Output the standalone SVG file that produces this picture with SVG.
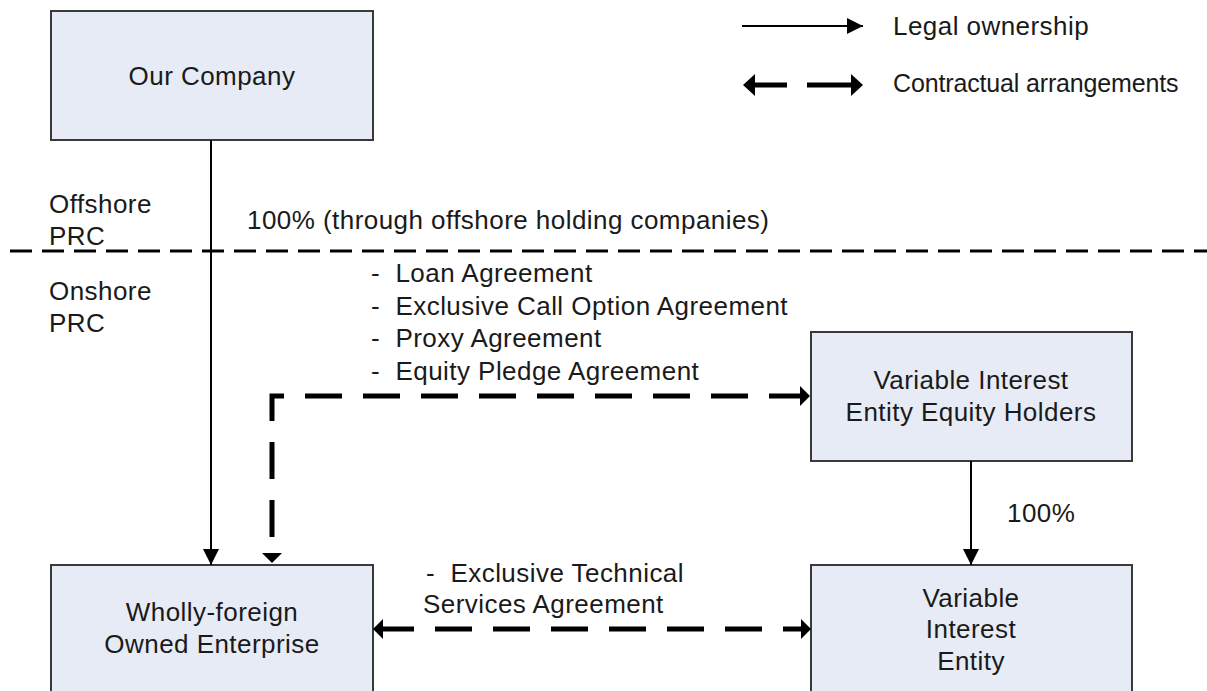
<svg xmlns="http://www.w3.org/2000/svg" width="1207" height="691" viewBox="0 0 1207 691">
  <style>
    text { font-family: "Liberation Sans", Arial, Helvetica, sans-serif; font-size: 26px; letter-spacing: 0.45px; fill: #1a1a1a; white-space: pre; }
    .c { text-anchor: middle; }
    .narrow { font-size: 25px; letter-spacing: -0.15px; }
    .box { fill: #e7ebf5; stroke: #3a3a3a; stroke-width: 2; }
    .solid { fill: none; stroke: #000; stroke-width: 2; }
    .dash { fill: none; stroke: #000; stroke-width: 5; stroke-dasharray: 37 21; }
    .divider { fill: none; stroke: #000; stroke-width: 3; stroke-dasharray: 22 10; }
  </style>
  <defs>
    <marker id="shead" markerUnits="userSpaceOnUse" markerWidth="18" markerHeight="18" refX="16" refY="8" orient="auto" overflow="visible">
      <path d="M0,0 L16,8 L0,16 Z" fill="#000"/>
    </marker>
    <marker id="dhead" markerUnits="userSpaceOnUse" markerWidth="12" markerHeight="22" refX="0" refY="10" orient="auto-start-reverse" overflow="visible">
      <path d="M0,0 L10,10 L0,20 Z" fill="#000"/>
    </marker>
  </defs>

  <rect width="1207" height="691" fill="#fff"/>

  <!-- region divider and labels -->
  <g id="divider">
    <line class="divider" x1="10" y1="251" x2="1207" y2="251"/>
    <text x="49" y="213">Offshore</text>
    <text x="49" y="245">PRC</text>
    <text x="49" y="300">Onshore</text>
    <text x="49" y="332">PRC</text>
  </g>

  <!-- legend -->
  <g id="legend">
    <path class="solid" d="M742,26 H863" marker-end="url(#shead)"/>
    <text x="893" y="35">Legal ownership</text>
    <path d="M754,85 H787 M807,85 H851" fill="none" stroke="#000" stroke-width="5"/>
    <path d="M755,74 L743,85 L755,96 Z M851,74 L863,85 L851,96 Z" fill="#000"/>
    <text class="narrow" x="893" y="92">Contractual arrangements</text>
  </g>

  <!-- nodes -->
  <g id="our-company">
    <rect class="box" x="51" y="11" width="322" height="129"/>
    <text class="c" x="212" y="85">Our Company</text>
  </g>
  <g id="vie-equity-holders">
    <rect class="box" x="811" y="332" width="321" height="129"/>
    <text class="c" x="971" y="389">Variable Interest</text>
    <text class="c" x="971" y="421">Entity Equity Holders</text>
  </g>
  <g id="wfoe">
    <rect class="box" x="51" y="565" width="322" height="140"/>
    <text class="c" x="212" y="621">Wholly-foreign</text>
    <text class="c" x="212" y="653">Owned Enterprise</text>
  </g>
  <g id="vie">
    <rect class="box" x="811" y="565" width="321" height="140"/>
    <text class="c" x="971" y="607">Variable</text>
    <text class="c" x="971" y="638">Interest</text>
    <text class="c" x="971" y="670">Entity</text>
  </g>

  <!-- connectors -->
  <g id="connectors">
    <path class="solid" d="M211,140 V565" marker-end="url(#shead)"/>
    <path class="solid" d="M971,461 V565" marker-end="url(#shead)"/>
    <path class="dash" d="M272,553 V396 H800" stroke-dashoffset="42" marker-start="url(#dhead)" marker-end="url(#dhead)"/>
    <path class="dash" d="M383,629 H801" stroke-dasharray="38 20" stroke-dashoffset="6" marker-start="url(#dhead)" marker-end="url(#dhead)"/>
  </g>

  <!-- connector labels -->
  <g id="labels">
    <text x="247" y="229">100% (through offshore holding companies)</text>
    <text x="371" y="282">-  Loan Agreement</text>
    <text x="371" y="315">-  Exclusive Call Option Agreement</text>
    <text x="371" y="347">-  Proxy Agreement</text>
    <text x="371" y="380">-  Equity Pledge Agreement</text>
    <text x="1007" y="522">100%</text>
    <text x="426" y="582">-  Exclusive Technical</text>
    <text x="423" y="613">Services Agreement</text>
  </g>
</svg>
